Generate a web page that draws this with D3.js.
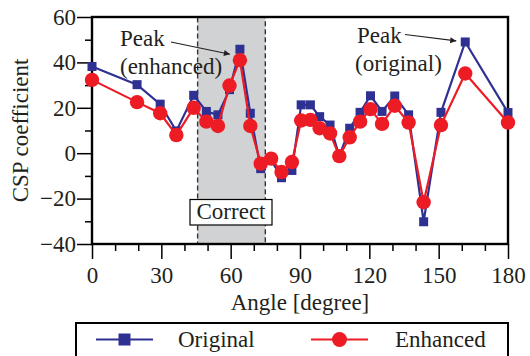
<!DOCTYPE html>
<html>
<head>
<meta charset="utf-8">
<script src="https://cdn.jsdelivr.net/npm/d3@7/dist/d3.min.js"></script>
<style>
  html, body { margin: 0; padding: 0; background: #fff; }
  svg { display: block; }
</style>
</head>
<body>
<svg id="chart" width="530" height="356"></svg>
<script>
// ---- data ----
const angles = [0, 19.5, 29.5, 36.5, 44, 49.5, 54.5, 59.5, 64, 68.5, 73, 77.5, 82, 86.5, 90.5, 94.5, 98.5, 103, 107, 111.5, 116, 120.5, 125.5, 131, 137, 143.5, 151, 161.5, 180];
const original = [38.2, 30.2, 21.6, 9.8, 25.5, 18.4, 16.9, 28, 45.8, 17.6, -6.8, -3, -10.8, -7.6, 21.3, 21.3, 16.1, 12.4, -1.3, 11, 18, 25.3, 18.4, 25.2, 16.9, -30.2, 18, 49, 17.9];
const enhanced = [32.3, 22.5, 17.6, 8, 20, 13.9, 12, 29.8, 41, 12, -4.6, -2.4, -8.3, -3.9, 14.4, 14.7, 11, 8.7, -1.3, 7, 13.9, 19.4, 12.9, 20.9, 13.5, -21.6, 12.4, 35.1, 13.5];
const seriesNames = ["Original", "Enhanced"];
const xMajorTicks = [0, 30, 60, 90, 120, 150, 180];
const xMinorTicks = [10, 20, 40, 50, 70, 80, 100, 110, 130, 140, 160, 170];
const yMajorTicks = [-40, -20, 0, 20, 40, 60];
const yMinorTicks = [-30, -10, 10, 30, 50];
const correctRange = [45.7, 75];
const xTitle = "Angle [degree]";
const yTitle = "CSP coefficient";
const correctLabel = "Correct";
const peakEnhanced = ["Peak", "(enhanced)"];
const peakOriginal = ["Peak", "(original)"];

// ---- layout ----
const FONT = '"Liberation Serif"';
const L = 92, R = 508, T = 17, B = 244;
const blue = "#2e3192", red = "#ed1c24";
const svg = d3.select("#chart");
const x = d3.scaleLinear().domain([0, 180]).range([L, R]);
const y = d3.scaleLinear().domain([-40, 60]).range([B, T]);

// shaded correct region
svg.append("rect")
  .attr("x", x(correctRange[0])).attr("y", y(60))
  .attr("width", x(correctRange[1]) - x(correctRange[0]))
  .attr("height", y(-40) - y(60))
  .attr("fill", "#d1d2d4")
  .attr("stroke", "#333").attr("stroke-width", 1.4)
  .attr("stroke-dasharray", "5,3");

// axes
const fs = 23;
function styleAxis(g) {
  g.attr("font-family", null);
  g.selectAll("path.domain").remove();
  g.selectAll("line").attr("stroke", "#000").attr("stroke-width", 1.5);
  g.selectAll("text").attr("font-size", fs).attr("fill", "#231f20")
    .style("font-family", FONT);
}
svg.append("g").attr("transform", `translate(0,${B})`)
  .call(d3.axisBottom(x).tickValues(xMajorTicks).tickSize(15).tickPadding(8).tickFormat(d3.format("d")))
  .call(styleAxis);
svg.append("g").attr("transform", `translate(0,${B})`)
  .call(d3.axisBottom(x).tickValues(xMinorTicks).tickSize(7).tickFormat(""))
  .call(styleAxis);
svg.append("g").attr("transform", `translate(${L},0)`)
  .call(d3.axisLeft(y).tickValues(yMajorTicks).tickSize(15).tickPadding(1).tickFormat(d3.format("d")))
  .call(styleAxis);
svg.append("g").attr("transform", `translate(${L},0)`)
  .call(d3.axisLeft(y).tickValues(yMinorTicks).tickSize(7).tickFormat(""))
  .call(styleAxis);

// frame
svg.append("rect").attr("x", L).attr("y", T).attr("width", R - L).attr("height", B - T)
  .attr("fill", "none").attr("stroke", "#000").attr("stroke-width", 2.4);

// series
const line = d3.line().x(d => x(d[0])).y(d => y(d[1]));
const blueData = angles.map((a, i) => [a, original[i]]);
const redData = angles.map((a, i) => [a, enhanced[i]]);

svg.append("path").datum(blueData).attr("d", line)
  .attr("fill", "none").attr("stroke", blue).attr("stroke-width", 2.2);
svg.append("g").selectAll("rect").data(blueData).join("rect")
  .attr("x", d => x(d[0]) - 4.5).attr("y", d => y(d[1]) - 4.5)
  .attr("width", 9).attr("height", 9).attr("fill", blue);

svg.append("path").datum(redData).attr("d", line)
  .attr("fill", "none").attr("stroke", red).attr("stroke-width", 2.2);
svg.append("g").selectAll("circle").data(redData).join("circle")
  .attr("cx", d => x(d[0])).attr("cy", d => y(d[1])).attr("r", 7.2).attr("fill", red);

function txt(xp, yp, s, anchor) {
  return svg.append("text").attr("x", xp).attr("y", yp)
    .style("font-family", FONT)
    .attr("font-size", fs).attr("fill", "#231f20")
    .attr("text-anchor", anchor || "start").text(s);
}

// Correct label
svg.append("rect").attr("x", 190).attr("y", 199.5).attr("width", 82).attr("height", 25.5)
  .attr("fill", "#fff").attr("stroke", "#000").attr("stroke-width", 1.2);
txt(231, 219, correctLabel, "middle");

// annotations
const defs = svg.append("defs");
defs.append("marker").attr("id", "arr").attr("viewBox", "0 0 10 10")
  .attr("refX", 10).attr("refY", 5).attr("markerWidth", 11).attr("markerHeight", 6)
  .attr("markerUnits", "userSpaceOnUse").attr("orient", "auto")
  .append("path").attr("d", "M0,0 L10,5 L0,10 z").attr("fill", "#231f20");

txt(120, 46, peakEnhanced[0]);
txt(120, 74, peakEnhanced[1]);
svg.append("line").attr("x1", 171).attr("y1", 42).attr("x2", x(angles[8]) - 10).attr("y2", y(original[8]) + 5)
  .attr("stroke", "#231f20").attr("stroke-width", 1.2).attr("marker-end", "url(#arr)");

txt(357, 43, peakOriginal[0]);
txt(355, 71, peakOriginal[1]);
svg.append("line").attr("x1", 405).attr("y1", 34.5).attr("x2", x(angles[27]) - 9).attr("y2", y(original[27]) - 1)
  .attr("stroke", "#231f20").attr("stroke-width", 1.2).attr("marker-end", "url(#arr)");

// axis titles
txt((L + R) / 2, 310, xTitle, "middle");
svg.append("text").attr("transform", `translate(28,${(T + B) / 2}) rotate(-90)`)
  .style("font-family", FONT).attr("fill", "#231f20")
  .attr("text-anchor", "middle").attr("font-size", fs).text(yTitle);

// legend
svg.append("rect").attr("x", 76).attr("y", 323).attr("width", R - 76).attr("height", 50)
  .attr("fill", "#fff").attr("stroke", "#000").attr("stroke-width", 2);
const lg = [
  { name: seriesNames[0], color: blue, x1: 96, x2: 153, tx: 178, shape: "sq" },
  { name: seriesNames[1], color: red, x1: 311, x2: 368, tx: 395, shape: "ci" }
];
lg.forEach(d => {
  svg.append("line").attr("x1", d.x1).attr("x2", d.x2).attr("y1", 339.5).attr("y2", 339.5)
    .attr("stroke", d.color).attr("stroke-width", 2.2);
  const mx = (d.x1 + d.x2) / 2;
  if (d.shape === "sq") {
    svg.append("rect").attr("x", mx - 6).attr("y", 339.5 - 6).attr("width", 12).attr("height", 12).attr("fill", d.color);
  } else {
    svg.append("circle").attr("cx", mx).attr("cy", 339.5).attr("r", 7.5).attr("fill", d.color);
  }
  txt(d.tx, 347, d.name);
});
</script>
</body>
</html>
